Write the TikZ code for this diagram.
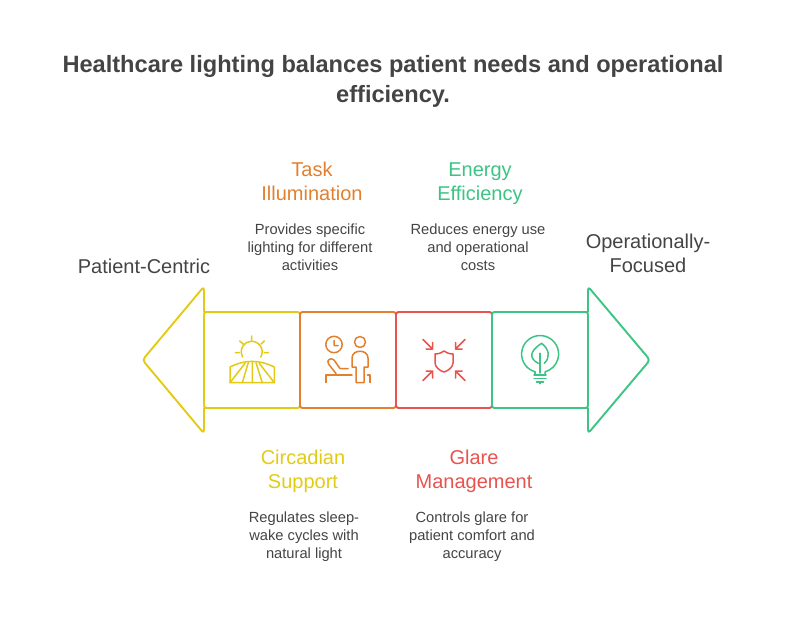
\documentclass[tikz,border=0pt]{standalone}
\usepackage{fontspec}
\setmainfont{Liberation Sans}
\usetikzlibrary{positioning}

\definecolor{circcol}{HTML}{E2CB14}
\definecolor{taskcol}{HTML}{E2802F}
\definecolor{glarecol}{HTML}{E8534F}
\definecolor{energycol}{HTML}{3BC483}
\definecolor{inkcol}{HTML}{444444}

\begin{document}
\begin{tikzpicture}[
    x=1pt, y=-1pt,
    box/.style={draw, line width=1.9pt, rounded corners=2.5pt, minimum width=96pt, minimum height=96pt, inner sep=0pt, outer sep=0pt, fill=white},
    tip/.style={line width=1.9pt, line join=round},
    icon/.style={line width=1.5pt, line cap=round, line join=round},
    heading/.style={align=center, font=\fontsize{20}{24}\selectfont, inner sep=0pt, execute at begin node=\strut, execute at end node=\strut},
    detail/.style={align=center, font=\fontsize{14.7}{18}\selectfont, text=inkcol, inner sep=0pt, execute at begin node=\strut, execute at end node=\strut},
    side/.style={heading, text=inkcol}
]
\useasboundingbox (0,0) rectangle (792,636);

% Title
\node[align=center, inner sep=0pt, text=inkcol, font=\bfseries\fontsize{23.6}{30}\selectfont, execute at begin node=\strut, execute at end node=\strut] (title) at (393,83) {Healthcare lighting balances patient needs and operational\\efficiency.};

% Boxes
\node[box, draw=circcol] (circadian) at (252,360) {};
\node[box, draw=taskcol, right=0pt of circadian] (task) {};
\node[box, draw=glarecol, right=0pt of task] (glare) {};
\node[box, draw=energycol, right=0pt of glare] (energy) {};

% Arrow tips
\draw[tip, draw=circcol] (212,408) [sharp corners] -- (circadian.south west) [rounded corners=3.5pt] -- (204,433.5) -- (142.5,360) -- (204,286.5) [sharp corners] -- (circadian.north west) -- (212,312);
\draw[tip, draw=energycol] (580,312) [sharp corners] -- (energy.north east) [rounded corners=3.5pt] -- (588,286.5) -- (650,360) -- (588,433.5) [sharp corners] -- (energy.south east) -- (580,408);

% Upper labels
\node[heading, text=taskcol] (taskhead) at (312,185) {Task\\Illumination};
\node[detail, below=16pt of taskhead, xshift=-2pt] (taskdetail) {Provides specific\\lighting for different\\activities};
\node[heading, text=energycol] (energyhead) at (480,185) {Energy\\Efficiency};
\node[detail, below=16pt of energyhead, xshift=-2pt] (energydetail) {Reduces energy use\\and operational\\costs};

% Lower labels
\node[heading, text=circcol] (circadianhead) at (303,473) {Circadian\\Support};
\node[detail, below=16pt of circadianhead, xshift=1pt] (circadiandetail) {Regulates sleep-\\wake cycles with\\natural light};
\node[heading, text=glarecol] (glarehead) at (474,473) {Glare\\Management};
\node[detail, below=16pt of glarehead, xshift=-2pt] (glaredetail) {Controls glare for\\patient comfort and\\accuracy};

% Ends
\node[side] (patient) at (144,268.5) {Patient-Centric};
\node[side] (operational) at (648,256.5) {Operationally-\\Focused};

% Sun icon
\draw[icon, draw=circcol] (242.6,357) arc[start angle=210, end angle=-30, radius=10.5pt];
\draw[icon, draw=circcol] (251.7,336) -- (251.7,340.3) (239.7,341) -- (243.3,344) (264.3,341) -- (261,344) (235.3,352.7) -- (239.3,352.7) (264.3,352.7) -- (268.3,352.7);
\draw[icon, draw=circcol] (230,367) .. controls (245,359.5) and (259,359.5) .. (274.3,367) -- (274.3,382.7) -- (230,382.7) -- cycle;
\draw[icon, draw=circcol] (230,382.7) -- (245,363.3) (242.3,382.7) -- (248.3,362.7) (252.3,382.7) -- (252.3,361.7) (262.3,382.7) -- (256,362.7) (274.3,382.7) -- (259.3,363.3);

% Person icon
\draw[icon, draw=taskcol] (334,344.5) circle[radius=8.2pt] (334,340.5) -- (334,345.5) -- (338,345.5);
\draw[icon, draw=taskcol] (360,342) circle[radius=5.5pt];
\draw[icon, draw=taskcol] (356,367) -- (352,367) -- (352,358) .. controls (352,349) and (368,349) .. (368,358) -- (368,367) -- (364,367) -- (364,382.5) -- (356,382.5) -- cycle;
\draw[icon, draw=taskcol] (326,382.5) -- (326,375) -- (352,375);
\draw[icon, draw=taskcol] (336,373.5) -- (328.5,364) .. controls (326,360) and (331,357) .. (334,360) -- (340,368.5) -- (348,368.5);
\draw[icon, draw=taskcol] (367.5,375) -- (370,375) -- (370,382.5);

% Shield icon
\draw[icon, draw=glarecol] (435,354) .. controls (440,354) and (442,352) .. (444,351) .. controls (446,352) and (448,354) .. (453,354) -- (453,363) .. controls (453,367) and (448,371) .. (444,372) .. controls (440,371) and (435,367) .. (435,363) -- cycle;
\draw[icon, draw=glarecol] (423,339.5) -- (432.5,349) (432.5,342.5) -- (432.5,349) -- (426,349);
\draw[icon, draw=glarecol] (465,339.5) -- (455.5,349) (455.5,342.5) -- (455.5,349) -- (462,349);
\draw[icon, draw=glarecol] (423,380.5) -- (432.5,371) (426,371) -- (432.5,371) -- (432.5,378);
\draw[icon, draw=glarecol] (465,380.5) -- (455.5,371) (462,371) -- (455.5,371) -- (455.5,378);

% Bulb icon
\draw[icon, draw=energycol] (535,371.8) arc[start angle=254, end angle=-74, radius=18.5pt] -- (545,375);
\draw[icon, draw=energycol] (535,371.8) -- (535,375);
\draw[icon, draw=energycol] (534,375) -- (546,375) (534,378.7) -- (546,378.7) (536.5,382) -- (543.5,382) (540,382) -- (540,383.7);
\draw[icon, draw=energycol] (540,373) -- (540,353.3);
\draw[icon, draw=energycol] (538.3,363.3) .. controls (530,359) and (528,352) .. (541.7,343.3) .. controls (550,350) and (550,358) .. (544.3,363.3);
\end{tikzpicture}
\end{document}
